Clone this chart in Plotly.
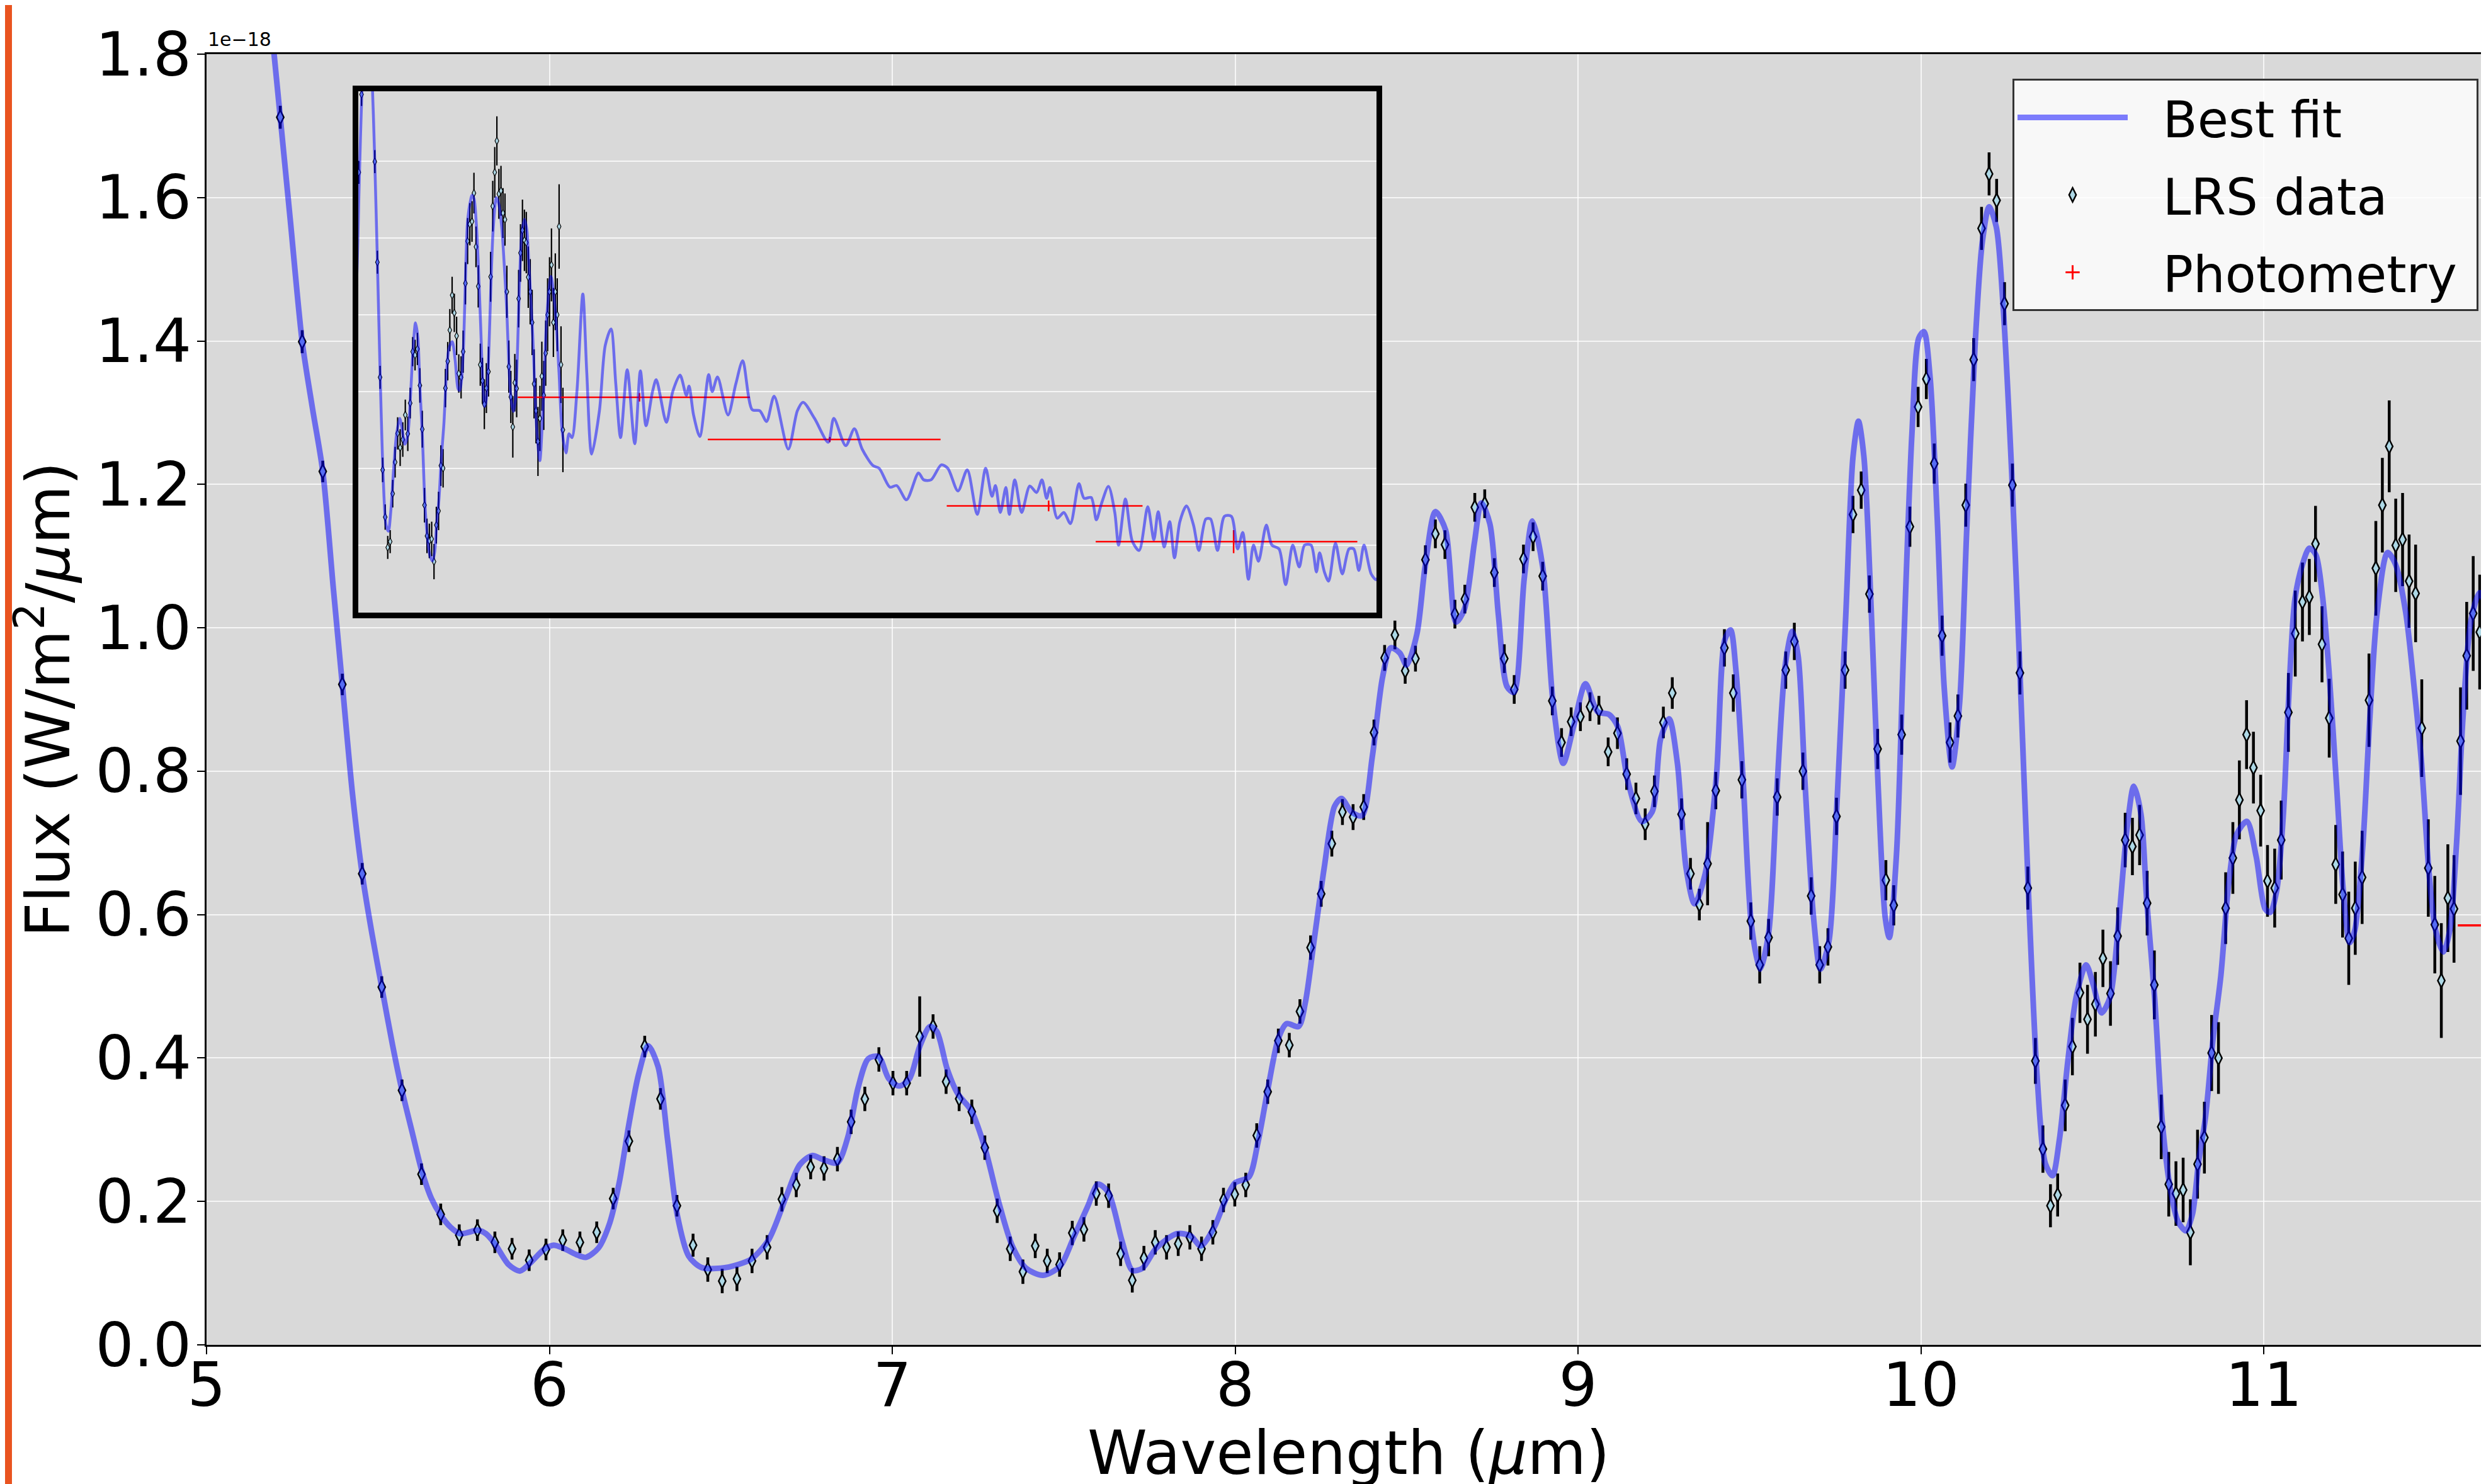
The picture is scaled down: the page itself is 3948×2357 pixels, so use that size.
import plotly.graph_objects as go

# ---------------- data (flux in units of 1e-18 W/m^2/um) ----------------
lrs_wl = [
    5.215, 5.279, 5.339, 5.396, 5.454, 5.511, 5.570, 5.627, 5.683, 5.737,
    5.790, 5.841, 5.891, 5.941, 5.990, 6.039, 6.089, 6.138, 6.186, 6.232,
    6.278, 6.324, 6.372, 6.419,
    6.462, 6.504, 6.547, 6.591, 6.635, 6.678, 6.720, 6.762, 6.801, 6.840,
    6.880, 6.920, 6.961, 7.002, 7.042, 7.080, 7.119, 7.157, 7.195, 7.232,
    7.270, 7.306, 7.344, 7.381, 7.417, 7.452, 7.488, 7.525, 7.559, 7.595,
    7.631, 7.666, 7.700, 7.734, 7.767, 7.800, 7.834, 7.868, 7.902,
    7.935, 7.966, 7.999, 8.031, 8.063, 8.095, 8.126, 8.158, 8.189, 8.220,
    8.251, 8.282, 8.313, 8.344, 8.375, 8.405, 8.436, 8.466, 8.496, 8.526,
    8.555, 8.584, 8.612, 8.641, 8.670, 8.699, 8.728, 8.756, 8.785, 8.814,
    8.841, 8.869, 8.897, 8.925, 8.952, 8.980, 9.007, 9.035, 9.061, 9.088,
    9.115, 9.142, 9.169, 9.196, 9.223, 9.249, 9.275, 9.302, 9.328, 9.354,
    9.378, 9.402, 9.427, 9.453, 9.478, 9.504, 9.530, 9.556, 9.581, 9.606,
    9.631, 9.656, 9.680, 9.705, 9.729, 9.754, 9.779, 9.802, 9.826, 9.850,
    9.874, 9.898, 9.921, 9.944, 9.968, 9.992, 10.016, 10.039, 10.062, 10.085,
    10.108, 10.131, 10.154, 10.177, 10.199, 10.221, 10.244, 10.267, 10.289, 10.312,
    10.334, 10.356, 10.378, 10.399, 10.421, 10.442, 10.464,
    10.486, 10.509, 10.531, 10.553, 10.574, 10.596, 10.617, 10.638, 10.660, 10.681,
    10.701, 10.723, 10.744, 10.765, 10.786, 10.807, 10.827, 10.848, 10.868, 10.889,
    10.910, 10.929, 10.950, 10.970, 10.991, 11.011, 11.032, 11.051, 11.072, 11.092,
    11.113, 11.133, 11.151, 11.170, 11.191, 11.210, 11.230, 11.248, 11.267, 11.287,
    11.307, 11.327, 11.346, 11.366, 11.385, 11.405, 11.424, 11.443, 11.461, 11.480,
    11.499, 11.518, 11.537, 11.555, 11.574, 11.592, 11.611, 11.630, 11.648, 11.667,
    11.686, 11.705, 11.724, 11.743, 11.762, 11.781, 11.800, 11.819, 11.838, 11.857,
    11.876, 11.895, 11.914, 11.933, 11.952, 11.971, 11.990, 12.009,
]
lrs_flux = [
    1.712, 1.399, 1.218, 0.921, 0.657, 0.499, 0.355, 0.238, 0.182, 0.153,
    0.160, 0.143, 0.134, 0.118, 0.133, 0.146, 0.143, 0.157, 0.204, 0.284,
    0.416, 0.343, 0.194, 0.139,
    0.105, 0.089, 0.092, 0.117, 0.136, 0.203, 0.223, 0.248, 0.246, 0.259,
    0.311, 0.343, 0.398, 0.365, 0.365, 0.430, 0.444, 0.367, 0.343, 0.325,
    0.275, 0.187, 0.134, 0.102, 0.138, 0.117, 0.112, 0.156, 0.161, 0.211,
    0.208, 0.127, 0.090, 0.121, 0.143, 0.136, 0.141, 0.150, 0.134,
    0.157, 0.202, 0.210, 0.223, 0.292, 0.353, 0.424, 0.418, 0.465, 0.554,
    0.629, 0.699, 0.743, 0.736, 0.750, 0.854, 0.958, 0.990, 0.940, 0.957,
    1.095, 1.131, 1.116, 1.019, 1.040, 1.168, 1.173, 1.077, 0.957, 0.914,
    1.096, 1.127, 1.072, 0.898, 0.840, 0.869, 0.876, 0.890, 0.885, 0.827,
    0.853, 0.796, 0.762, 0.726, 0.772, 0.868, 0.909, 0.740, 0.657, 0.614,
    0.671, 0.773, 0.972, 0.909, 0.788, 0.591, 0.530, 0.568, 0.764, 0.941,
    0.981, 0.800, 0.626, 0.530, 0.555, 0.737, 0.941, 1.158, 1.192, 1.047,
    0.831, 0.648, 0.613, 0.851, 1.141, 1.308, 1.347, 1.229, 0.989, 0.840,
    0.877, 1.171, 1.374, 1.557, 1.633, 1.596, 1.452, 1.199, 0.937, 0.637,
    0.396, 0.273, 0.194, 0.209, 0.334, 0.416, 0.491,
    0.454, 0.475, 0.539, 0.490, 0.570, 0.704, 0.695, 0.711, 0.616, 0.502,
    0.304, 0.224, 0.211, 0.216, 0.157, 0.252, 0.289, 0.407, 0.400, 0.609,
    0.679, 0.760, 0.851, 0.805, 0.745, 0.647, 0.637, 0.704, 0.882, 0.992,
    1.036, 1.043, 1.117, 0.977, 0.874, 0.670, 0.628, 0.567, 0.609, 0.652,
    0.899, 1.083, 1.171, 1.253, 1.115, 1.123, 1.065, 1.048, 0.860, 0.665,
    0.586, 0.508, 0.623, 0.608, 0.842, 0.961, 1.020, 0.994, 0.988, 0.898,
    0.860, 0.780, 0.620, 0.550, 0.470, 0.530, 0.640, 0.590, 0.700, 0.800,
    0.860, 0.930, 0.780, 0.860, 0.800, 1.030, 0.670, 0.500,
]
lrs_err = [
    0.016, 0.016, 0.015, 0.015, 0.015, 0.015, 0.015, 0.015, 0.015, 0.015,
    0.015, 0.015, 0.015, 0.015, 0.015, 0.015, 0.015, 0.015, 0.015, 0.015,
    0.015, 0.015, 0.015, 0.016,
    0.017, 0.017, 0.017, 0.017, 0.017, 0.017, 0.017, 0.017, 0.017, 0.017,
    0.017, 0.017, 0.017, 0.017, 0.017, 0.056, 0.017, 0.017, 0.017, 0.017,
    0.017, 0.017, 0.017, 0.017, 0.017, 0.017, 0.017, 0.017, 0.017, 0.017,
    0.017, 0.017, 0.017, 0.017, 0.017, 0.017, 0.017, 0.017, 0.017,
    0.017, 0.017, 0.017, 0.017, 0.017, 0.017, 0.017, 0.017, 0.017, 0.017,
    0.018, 0.018, 0.018, 0.018, 0.018, 0.018, 0.018, 0.020, 0.018, 0.018,
    0.020, 0.020, 0.020, 0.020, 0.020, 0.020, 0.020, 0.020, 0.020, 0.020,
    0.020, 0.020, 0.020, 0.020, 0.020, 0.020, 0.020, 0.020, 0.020, 0.020,
    0.022, 0.022, 0.022, 0.022, 0.022, 0.022, 0.022, 0.022, 0.022, 0.022,
    0.058, 0.026, 0.026, 0.026, 0.026, 0.026, 0.026, 0.026, 0.026, 0.026,
    0.026, 0.026, 0.026, 0.026, 0.026, 0.026, 0.026, 0.026, 0.026, 0.026,
    0.028, 0.028, 0.028, 0.028, 0.028, 0.028, 0.028, 0.028, 0.028, 0.028,
    0.030, 0.030, 0.030, 0.030, 0.030, 0.030, 0.030, 0.030, 0.030, 0.030,
    0.032, 0.033, 0.030, 0.030, 0.036, 0.040, 0.042,
    0.048, 0.045, 0.040, 0.045, 0.040, 0.038, 0.040, 0.042, 0.045, 0.048,
    0.045, 0.045, 0.045, 0.045, 0.046, 0.048, 0.050, 0.053, 0.050, 0.050,
    0.050, 0.055, 0.048, 0.050, 0.050, 0.050, 0.055, 0.055, 0.055, 0.060,
    0.055, 0.053, 0.053, 0.053, 0.055, 0.055, 0.060, 0.065, 0.065, 0.065,
    0.065, 0.066, 0.066, 0.064, 0.065, 0.065, 0.065, 0.068, 0.068, 0.068,
    0.068, 0.080, 0.075, 0.075, 0.075, 0.075, 0.080, 0.080, 0.080, 0.080,
    0.085, 0.085, 0.090, 0.085, 0.090, 0.085, 0.090, 0.090, 0.085, 0.095,
    0.090, 0.095, 0.090, 0.100, 0.095, 0.110, 0.100, 0.110,
]

fit_wl = [
    5.150, 5.197, 5.215, 5.244, 5.279, 5.309, 5.339, 5.370, 5.396, 5.426,
    5.454, 5.483, 5.511, 5.543, 5.570, 5.600, 5.627, 5.656, 5.683, 5.712,
    5.740, 5.765, 5.790, 5.815, 5.841, 5.881, 5.914, 5.946, 5.984, 6.012,
    6.040, 6.078, 6.106, 6.143, 6.176, 6.204, 6.232, 6.260, 6.288, 6.317,
    6.345, 6.373, 6.406, 6.443, 6.500, 6.550, 6.590, 6.640, 6.690, 6.730,
    6.766, 6.800, 6.840, 6.870, 6.900, 6.930, 6.960, 6.990, 7.020, 7.050,
    7.080, 7.110, 7.130, 7.160, 7.190, 7.230, 7.270, 7.310, 7.350, 7.390,
    7.440, 7.490, 7.530, 7.570, 7.600, 7.630, 7.670, 7.700, 7.730, 7.770,
    7.830, 7.870, 7.900, 7.940, 7.970, 8.000, 8.040, 8.066, 8.096, 8.126,
    8.150, 8.185, 8.205, 8.230, 8.260, 8.290, 8.310, 8.340, 8.370, 8.400,
    8.430, 8.454, 8.480, 8.500, 8.530, 8.554, 8.584, 8.614, 8.644, 8.668,
    8.698, 8.718, 8.743, 8.768, 8.793, 8.813, 8.843, 8.867, 8.897, 8.927,
    8.957, 8.987, 9.022, 9.057, 9.091, 9.116, 9.146, 9.186, 9.216, 9.241,
    9.266, 9.290, 9.315, 9.340, 9.371, 9.404, 9.428, 9.445, 9.461, 9.482,
    9.506, 9.531, 9.556, 9.580, 9.605, 9.625, 9.642, 9.662, 9.687, 9.707,
    9.732, 9.756, 9.781, 9.802, 9.818, 9.834, 9.855, 9.875, 9.896, 9.908,
    9.929, 9.949, 9.974, 9.994, 10.009, 10.027, 10.048, 10.068, 10.091, 10.113,
    10.134, 10.158, 10.179, 10.199, 10.220, 10.240, 10.265, 10.289, 10.314, 10.339,
    10.363, 10.384, 10.404, 10.429, 10.453, 10.482, 10.503, 10.527, 10.552, 10.576,
    10.601, 10.621, 10.642, 10.659, 10.682, 10.704, 10.727, 10.750, 10.773, 10.792,
    10.810, 10.830, 10.852, 10.875, 10.898, 10.921, 10.951, 10.978, 11.004, 11.019,
    11.038, 11.057, 11.072, 11.091, 11.114, 11.133, 11.152, 11.171, 11.190, 11.213,
    11.232, 11.251, 11.266, 11.289, 11.308, 11.331, 11.361, 11.384, 11.414, 11.440,
    11.460, 11.482, 11.501, 11.524, 11.543, 11.562, 11.581, 11.604, 11.630, 11.653,
    11.670, 11.710, 11.750, 11.780, 11.810, 11.850, 11.890, 11.930, 11.970, 12.000,
    12.040, 12.070, 12.100, 12.150, 12.210, 12.250, 12.300, 12.380, 12.440, 12.500,
    12.550, 12.600, 12.670, 12.750, 12.810, 12.870, 12.940, 12.980, 13.090, 13.160,
    13.240, 13.310, 13.340, 13.390, 13.460, 13.560, 13.600, 13.660, 13.780, 13.870,
    13.950, 14.060, 14.150, 14.230, 14.320, 14.490, 14.600, 14.670, 14.810, 14.980,
    15.050, 15.200, 15.310, 15.410, 15.550, 15.630, 15.770, 15.860, 15.990, 16.150,
    16.220, 16.320, 16.460, 16.550, 16.690, 16.820, 16.960, 17.080, 17.170, 17.220,
    17.290, 17.370, 17.420, 17.500, 17.600, 17.720, 17.820, 17.900, 17.970, 18.020,
    18.130, 18.230, 18.330, 18.460, 18.540, 18.650, 18.730, 18.810, 18.920, 19.020,
    19.080, 19.190, 19.300, 19.410, 19.550, 19.650, 19.720, 19.820, 19.910, 19.990,
    20.080, 20.190, 20.310, 20.400, 20.520, 20.600, 20.720, 20.840, 20.960, 21.070,
    21.160, 21.260, 21.350, 21.440, 21.580, 21.680, 21.810, 21.930, 22.060, 22.180,
    22.280, 22.400, 22.500, 22.560, 22.650, 22.730, 22.860, 22.990, 23.120, 23.210,
    23.310, 23.410, 23.550, 23.650, 23.750,
]
fit_flux = [
    2.030, 1.800, 1.712, 1.570, 1.399, 1.306, 1.218, 1.054, 0.921, 0.767,
    0.657, 0.572, 0.499, 0.417, 0.355, 0.296, 0.244, 0.204, 0.181, 0.164,
    0.155, 0.157, 0.160, 0.155, 0.141, 0.112, 0.103, 0.115, 0.133, 0.139,
    0.135, 0.126, 0.122, 0.135, 0.170, 0.227, 0.308, 0.377, 0.417, 0.388,
    0.285, 0.181, 0.124, 0.108, 0.107, 0.112, 0.120, 0.147, 0.206, 0.251,
    0.264, 0.258, 0.254, 0.289, 0.358, 0.399, 0.402, 0.371, 0.361, 0.371,
    0.416, 0.444, 0.437, 0.385, 0.351, 0.327, 0.275, 0.200, 0.138, 0.107,
    0.097, 0.110, 0.151, 0.193, 0.224, 0.213, 0.145, 0.104, 0.107, 0.135,
    0.155, 0.152, 0.138, 0.165, 0.200, 0.226, 0.234, 0.281, 0.358, 0.427,
    0.448, 0.444, 0.478, 0.563, 0.666, 0.751, 0.762, 0.743, 0.738, 0.820,
    0.931, 0.972, 0.965, 0.948, 0.991, 1.085, 1.162, 1.136, 1.008, 1.025,
    1.119, 1.174, 1.145, 1.017, 0.918, 0.910, 1.068, 1.149, 1.085, 0.897,
    0.811, 0.862, 0.922, 0.883, 0.879, 0.862, 0.785, 0.730, 0.743, 0.845,
    0.873, 0.811, 0.666, 0.615, 0.657, 0.795, 0.983, 0.997, 0.939, 0.784,
    0.585, 0.524, 0.574, 0.773, 0.950, 0.995, 0.961, 0.784, 0.596, 0.524,
    0.563, 0.762, 1.017, 1.238, 1.288, 1.238, 1.028, 0.784, 0.596, 0.568,
    0.685, 0.961, 1.271, 1.404, 1.413, 1.349, 1.150, 0.917, 0.806, 0.895,
    1.139, 1.393, 1.537, 1.587, 1.559, 1.448, 1.216, 0.939, 0.629, 0.375,
    0.253, 0.236, 0.286, 0.397, 0.485, 0.530, 0.502, 0.463, 0.485, 0.585,
    0.718, 0.779, 0.740, 0.618, 0.483, 0.312, 0.219, 0.172, 0.159, 0.182,
    0.255, 0.317, 0.426, 0.515, 0.644, 0.712, 0.730, 0.681, 0.608, 0.603,
    0.634, 0.738, 0.893, 1.040, 1.090, 1.111, 1.102, 1.046, 0.942, 0.776,
    0.634, 0.561, 0.579, 0.696, 0.862, 1.022, 1.105, 1.089, 1.022, 0.911,
    0.813, 0.659, 0.579, 0.548, 0.579, 0.696, 0.874, 1.009, 1.049, 1.022,
    0.950, 0.750, 0.500, 0.420, 0.550, 0.800, 0.900, 0.820, 0.650, 0.500,
    0.440, 0.490, 0.480, 0.600, 0.854, 0.650, 0.437, 0.550, 0.720, 0.763,
    0.620, 0.480, 0.657, 0.464, 0.654, 0.511, 0.600, 0.631, 0.520, 0.600,
    0.643, 0.590, 0.614, 0.539, 0.483, 0.644, 0.600, 0.638, 0.539, 0.620,
    0.680, 0.553, 0.550, 0.522, 0.588, 0.450, 0.550, 0.572, 0.530, 0.468,
    0.530, 0.459, 0.503, 0.450, 0.407, 0.400, 0.351, 0.355, 0.318, 0.388,
    0.370, 0.370, 0.409, 0.400, 0.341, 0.396, 0.280, 0.400, 0.327, 0.355,
    0.285, 0.350, 0.280, 0.370, 0.285, 0.354, 0.337, 0.370, 0.322, 0.350,
    0.270, 0.285, 0.256, 0.360, 0.322, 0.324, 0.266, 0.308, 0.353, 0.285,
    0.200, 0.320, 0.210, 0.186, 0.300, 0.214, 0.287, 0.195, 0.261, 0.167,
    0.261, 0.302, 0.252, 0.186, 0.268, 0.268, 0.186, 0.275, 0.275, 0.190,
    0.233, 0.111, 0.200, 0.158, 0.252, 0.200, 0.190, 0.097, 0.200, 0.143,
    0.200, 0.200, 0.130, 0.180, 0.130, 0.106, 0.205, 0.125, 0.190, 0.190,
    0.134, 0.200, 0.125, 0.110, 0.140,
]

phot_wl = [12.8, 15.0, 18.0, 21.0]
phot_flux = [0.585, 0.475, 0.302, 0.209]
phot_wl_err = [1.234, 1.45, 1.465, 2.28]
phot_flux_err = [0.011, 0.006, 0.014, 0.030]

x_ticks = [5, 6, 7, 8, 9, 10, 11]
y_ticks = [0.0, 0.2, 0.4, 0.6, 0.8, 1.0, 1.2, 1.4, 1.6, 1.8]

assert len(lrs_wl) == len(lrs_flux) == len(lrs_err), (len(lrs_wl), len(lrs_flux), len(lrs_err))
assert len(fit_wl) == len(fit_flux), (len(fit_wl), len(fit_flux))

# ---------------- styling ----------------
W, H = 3948, 2357
ML, MR, MT, MB = 320, 0, 78, 229
FONT = "DejaVu Sans"
BG = "#d9d9d9"
FIT_COLOR = "rgba(0,0,255,0.5)"
NB = "\u00a0"

fig = go.Figure()

# main axes
fig.add_trace(go.Scatter(
    x=lrs_wl, y=lrs_flux, mode="markers", name=NB * 2 + "LRS data" + NB,
    legendgroup="lrs", legendrank=2,
    marker=dict(symbol="diamond-tall", size=16, color="#add8e6",
                line=dict(color="black", width=2.5)),
    error_y=dict(type="data", array=lrs_err, color="black", thickness=4.5, width=0),
    xaxis="x", yaxis="y",
))
fig.add_trace(go.Scatter(
    x=phot_wl, y=phot_flux, mode="markers", name=NB * 2 + "Photometry" + NB,
    legendgroup="phot", legendrank=3,
    marker=dict(symbol="cross-thin", size=30, color="red", line=dict(color="red", width=3)),
    error_x=dict(type="data", array=phot_wl_err, color="red", thickness=3.5, width=0),
    error_y=dict(type="data", array=phot_flux_err, color="red", thickness=3.5, width=0),
    xaxis="x", yaxis="y",
))
fig.add_trace(go.Scatter(
    x=fit_wl, y=fit_flux, mode="lines", name=NB * 2 + "Best fit" + NB,
    legendgroup="fit", legendrank=1,
    line=dict(color=FIT_COLOR, width=9, shape="spline", smoothing=0.8),
    xaxis="x", yaxis="y",
))

# inset axes
fig.add_trace(go.Scatter(
    x=lrs_wl, y=lrs_flux, mode="markers", name="LRS data", showlegend=False,
    legendgroup="lrs",
    marker=dict(symbol="diamond-tall", size=8.5, color="#add8e6",
                line=dict(color="black", width=1.2)),
    error_y=dict(type="data", array=lrs_err, color="black", thickness=2.2, width=0),
    xaxis="x2", yaxis="y2",
))
fig.add_trace(go.Scatter(
    x=phot_wl, y=phot_flux, mode="markers", name="Photometry", showlegend=False,
    legendgroup="phot",
    marker=dict(symbol="line-ns", size=6, color="red", line=dict(color="red", width=2)),
    error_x=dict(type="data", array=phot_wl_err, color="red", thickness=2.5, width=0),
    error_y=dict(type="data", array=phot_flux_err, color="red", thickness=2.5, width=0),
    xaxis="x2", yaxis="y2",
))
fig.add_trace(go.Scatter(
    x=fit_wl, y=fit_flux, mode="lines", name="Best fit", showlegend=False,
    legendgroup="fit",
    line=dict(color=FIT_COLOR, width=4.5, shape="spline", smoothing=0.8),
    xaxis="x2", yaxis="y2",
))

plot_w = W - ML - MR
plot_h = H - MT - MB


def px_to_paper_x(px):
    return (px - ML) / plot_w


def px_to_paper_y(py):
    return (H - MB - py) / plot_h


fig.update_layout(
    width=W, height=H,
    margin=dict(l=ML, r=MR, t=MT, b=MB, autoexpand=False),
    paper_bgcolor="white", plot_bgcolor=BG,
    font=dict(family=FONT, color="black"),
    showlegend=True,
    legend=dict(
        x=px_to_paper_x(3928), xanchor="right",
        y=px_to_paper_y(117), yanchor="top",
        bgcolor="rgba(255,255,255,0.8)", bordercolor="#333333", borderwidth=3,
        font=dict(size=80, family=FONT, color="black"),
        itemwidth=175, traceorder="grouped", tracegroupgap=16,
    ),
    xaxis=dict(
        domain=[0, 1], range=[5, 5 + plot_w / 544.5],
        tickmode="array", tickvals=x_ticks, ticktext=[str(v) for v in x_ticks],
        ticks="outside", ticklen=12, tickwidth=2, tickcolor="black",
        tickfont=dict(size=96, family=FONT), ticklabelstandoff=-33,
        showline=True, linecolor="black", linewidth=2.5, mirror=True,
        showgrid=True, gridcolor="rgba(255,255,255,0.75)", gridwidth=2,
        zeroline=False,
        anchor="y",
    ),
    yaxis=dict(
        domain=[0, 1], range=[0, 1.8],
        tickmode="array", tickvals=y_ticks, ticktext=[f"{v:.1f}" for v in y_ticks],
        ticks="outside", ticklen=12, tickwidth=2, tickcolor="black",
        tickfont=dict(size=96, family=FONT), ticklabelstandoff=-10,
        showline=True, linecolor="black", linewidth=2.5, mirror=False,
        showgrid=True, gridcolor="rgba(255,255,255,0.75)", gridwidth=2,
        zeroline=False,
        title=dict(text="Flux (W/m<sup>2</sup>/<i>μ</i>m)", font=dict(size=96, family=FONT), standoff=24),
        anchor="x",
    ),
    xaxis2=dict(
        domain=[px_to_paper_x(561), px_to_paper_x(2178)],
        type="log", range=[1.00546, 1.37392],
        showticklabels=False, ticks="", showgrid=False, zeroline=False,
        showline=True, linecolor="black", linewidth=9, mirror=True,
        anchor="y2",
    ),
    yaxis2=dict(
        domain=[px_to_paper_y(965), px_to_paper_y(137)],
        range=[0.02413, 1.3822],
        tickmode="linear", tick0=0, dtick=0.2,
        showticklabels=False, ticks="", showgrid=True,
        gridcolor="rgba(255,255,255,0.75)", gridwidth=2, zeroline=False,
        showline=True, linecolor="black", linewidth=9, mirror=True,
        anchor="x2",
    ),
    annotations=[
        dict(text="1e\u221218", xref="paper", yref="paper",
             x=0, y=px_to_paper_y(74), xanchor="left", yanchor="bottom",
             showarrow=False, font=dict(size=30, family=FONT, color="black")),
        dict(text="Wavelength (<i>μ</i>m)", xref="paper", yref="paper",
             x=0.5, y=px_to_paper_y(2300), xanchor="center", yanchor="middle",
             showarrow=False, font=dict(size=96, family=FONT, color="black")),
    ],
    shapes=[
        dict(type="rect", xref="paper", yref="paper",
             x0=px_to_paper_x(0), x1=px_to_paper_x(11),
             y0=px_to_paper_y(H), y1=px_to_paper_y(0),
             fillcolor="#E95420", line=dict(width=0), layer="above"),
    ],
)

fig.write_html("out.html", include_plotlyjs=True, config={"displayModeBar": False})
